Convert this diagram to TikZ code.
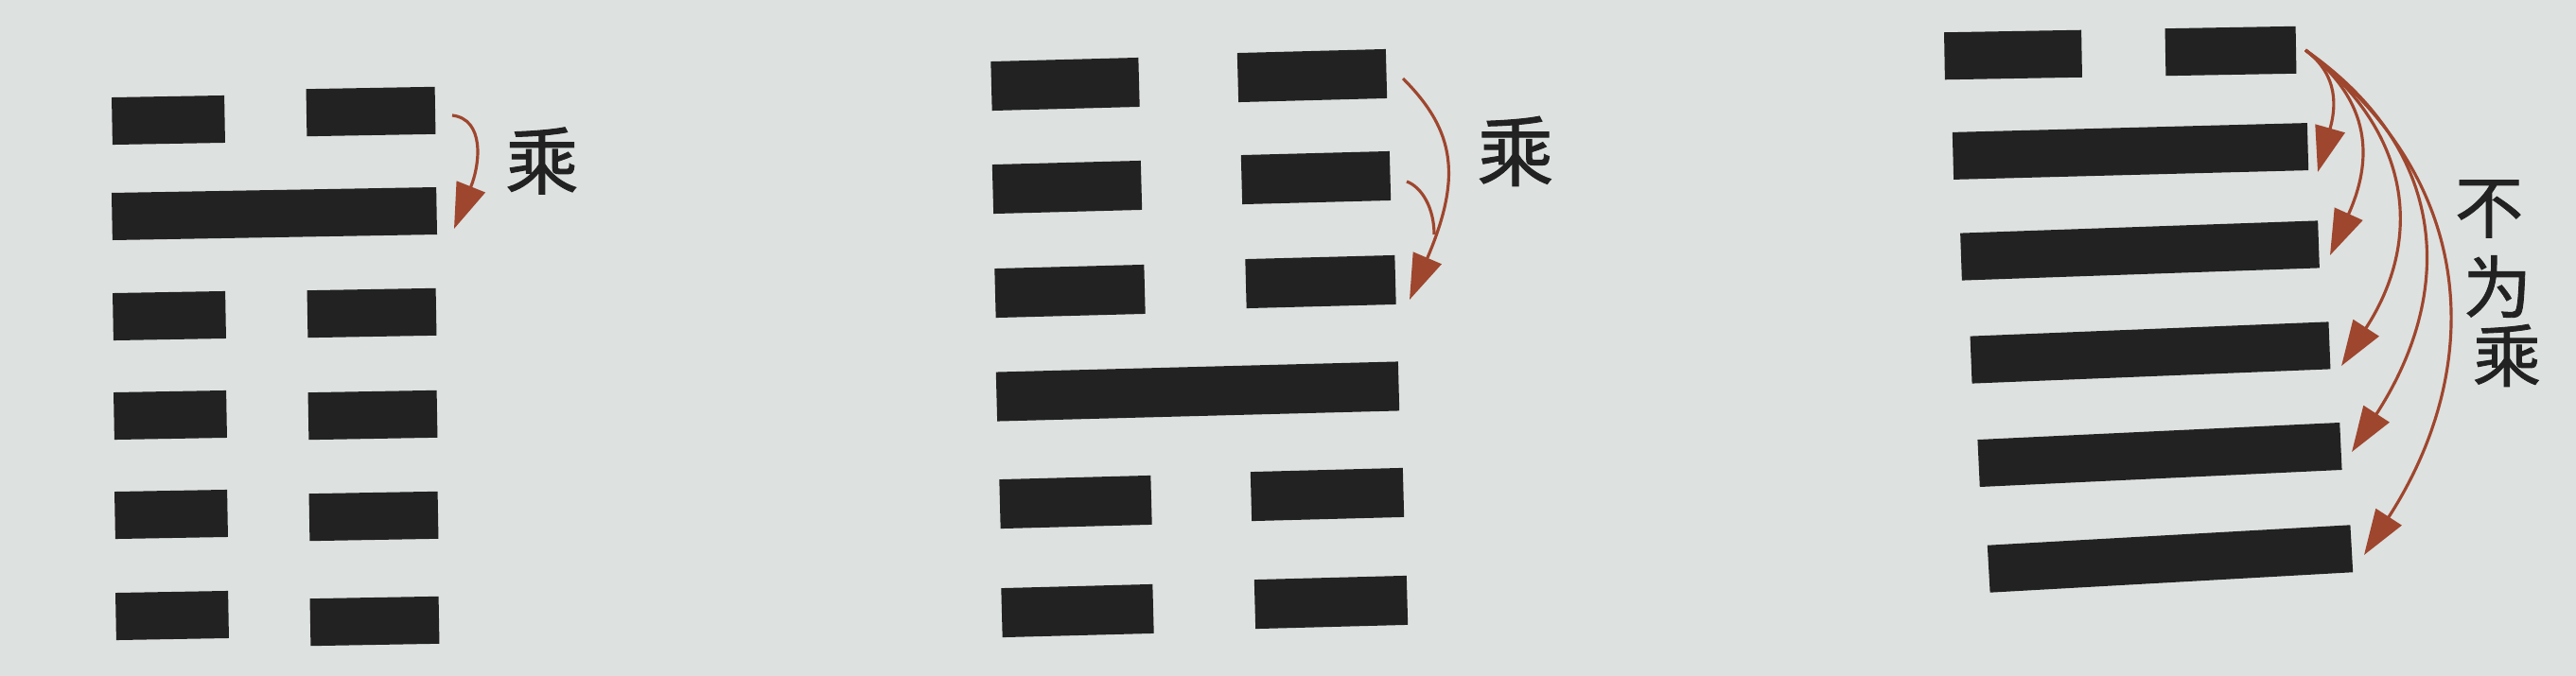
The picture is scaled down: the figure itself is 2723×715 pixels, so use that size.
\documentclass[tikz,border=0pt]{standalone}
\usepackage{fontspec}
\newfontfamily\cjk[FakeBold=1.2]{Noto Sans CJK SC}
\usetikzlibrary{arrows.meta}
\definecolor{paper}{RGB}{221,225,224}
\definecolor{ink}{RGB}{34,34,34}
\definecolor{arrowred}{RGB}{158,70,46}
\begin{document}
\begin{tikzpicture}[x=0.01cm,y=-0.01cm,
    bar/.style={fill=ink,inner sep=0pt,outer sep=0pt},
    barA/.style={bar,minimum height=0.50cm,rotate=1},
    barB/.style={bar,minimum height=0.52cm,rotate=1.5},
    barC/.style={bar,minimum height=0.50cm},
    arr/.style={draw=arrowred,line width=0.9pt,-{Triangle[length=0.48cm,width=0.32cm]}},
    lbl/.style={text=ink,inner sep=0pt,font=\cjk\fontsize{#1}{#1}\selectfont}]
    \fill[paper] (0,0) rectangle (2723,715);
    \node[barA,minimum width=1.19cm] (a1l) at (178,127) {};
    \node[barA,minimum width=1.36cm] (a1r) at (392,118) {};
    \node[barA,minimum width=3.43cm] (a2) at (290,226) {};
    \node[barA,minimum width=1.19cm] (a3l) at (179,334) {};
    \node[barA,minimum width=1.36cm] (a3r) at (393,331) {};
    \node[barA,minimum width=1.19cm] (a4l) at (180,439) {};
    \node[barA,minimum width=1.36cm] (a4r) at (394,439) {};
    \node[barA,minimum width=1.19cm] (a5l) at (181,544) {};
    \node[barA,minimum width=1.36cm] (a5r) at (395,546) {};
    \node[barA,minimum width=1.19cm] (a6l) at (182,651) {};
    \node[barA,minimum width=1.36cm] (a6r) at (396,657) {};
    \coordinate (aS) at (478,122);
    \coordinate (aE) at (480,242);
    \draw[arr] (aS) .. controls (512,126) and (508,172) .. (aE);
    \node[lbl=22] (chengA) at (573,170) {乘};
    \node[barB,minimum width=1.56cm] (b1l) at (1126,89) {};
    \node[barB,minimum width=1.57cm] (b1r) at (1387,80) {};
    \node[barB,minimum width=1.57cm] (b2l) at (1128,198) {};
    \node[barB,minimum width=1.57cm] (b2r) at (1391,188) {};
    \node[barB,minimum width=1.58cm] (b3l) at (1131,308) {};
    \node[barB,minimum width=1.58cm] (b3r) at (1396,298) {};
    \node[barB,minimum width=4.25cm] (b4) at (1266,414) {};
    \node[barB,minimum width=1.60cm] (b5l) at (1137,531) {};
    \node[barB,minimum width=1.61cm] (b5r) at (1403,523) {};
    \node[barB,minimum width=1.60cm] (b6l) at (1139,646) {};
    \node[barB,minimum width=1.61cm] (b6r) at (1407,637) {};
    \coordinate (bS) at (1483,83);
    \coordinate (bT) at (1487,192);
    \coordinate (bM) at (1516,248);
    \coordinate (bE) at (1490,317);
    \draw[arr] (bS) .. controls (1539,139) and (1545,188) .. (bE);
    \draw[draw=arrowred,line width=0.9pt] (bT) .. controls (1503,198) and (1516,220) .. (bM);
    \node[lbl=23] (chengB) at (1602,160) {乘};
    \node[barC,minimum width=1.45cm,rotate=1] (c1l) at (2128,58) {};
    \node[barC,minimum width=1.38cm,rotate=1] (c1r) at (2358,54) {};
    \node[barC,minimum width=3.75cm,rotate=1.5] (c2) at (2252,160) {};
    \node[barC,minimum width=3.78cm,rotate=2] (c3) at (2262,265) {};
    \node[barC,minimum width=3.79cm,rotate=2.3] (c4) at (2273,373) {};
    \node[barC,minimum width=3.83cm,rotate=2.7] (c5) at (2283,481) {};
    \node[barC,minimum width=3.84cm,rotate=3.2] (c6) at (2294,591) {};
    \coordinate (cS) at (2437,53);
    \coordinate (cE2) at (2450,182);
    \coordinate (cE3) at (2463,270);
    \coordinate (cE4) at (2475,387);
    \coordinate (cE5) at (2486,478);
    \coordinate (cE6) at (2499,587);
    \draw[arr] (cS) .. controls (2473,80) and (2469,115) .. (cE2);
    \draw[arr] (cS) .. controls (2508,108) and (2508,170) .. (cE3);
    \draw[arr] (cS) .. controls (2550,140) and (2562,253) .. (cE4);
    \draw[arr] (cS) .. controls (2590,160) and (2595,310) .. (cE5);
    \draw[arr] (cS) .. controls (2625,195) and (2624,394) .. (cE6);
    \node[lbl=20.5] (bu) at (2631,221) {不};
    \node[lbl=20.5] (wei) at (2640,303) {为};
    \node[lbl=20.5] (chengC) at (2650,376) {乘};
\end{tikzpicture}
\end{document}
